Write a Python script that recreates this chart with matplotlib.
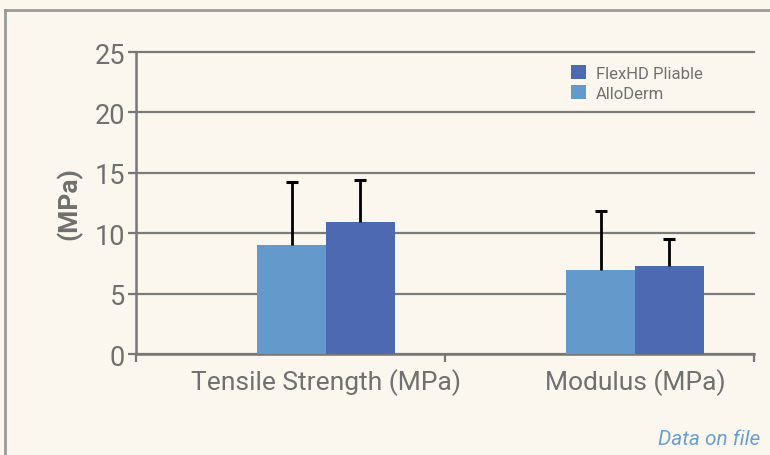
import numpy as np
import matplotlib
matplotlib.use("Agg")
import matplotlib.pyplot as plt
from matplotlib.lines import Line2D

# data
categories = ["Tensile Strength (MPa)", "Modulus (MPa)"]
alloderm = [9.0, 6.95]
alloderm_err = [5.2, 4.9]
flexhd = [10.95, 7.3]
flexhd_err = [3.45, 2.2]
y_ticks = [0, 5, 10, 15, 20, 25]

bg = "#FBF7EE"
gray = "#777777"
text_gray = "#707070"
c_allo = "#6399CB"
c_flex = "#4D69B1"

plt.rcParams['font.family'] = ['Roboto', 'DejaVu Sans']

fig = plt.figure(figsize=(7.7, 4.56), dpi=100)
fig.patch.set_facecolor(bg)

# outer frame (left and top edges only visible)
fig.add_artist(Line2D([5 / 770, 5 / 770], [0, 1 - 11 / 456], transform=fig.transFigure,
                      color="#9A9A9A", lw=2))
fig.add_artist(Line2D([5 / 770, 1], [1 - 11 / 456, 1 - 11 / 456], transform=fig.transFigure,
                      color="#9A9A9A", lw=2))

ax = fig.add_axes([136 / 770, 1 - 355 / 456, (754 - 136) / 770, (355 - 53) / 456])
ax.set_facecolor(bg)

x = np.arange(len(categories))
w = 0.223
ax.bar(x - w / 2, alloderm, w, color=c_allo, label="AlloDerm", zorder=3)
ax.bar(x + w / 2, flexhd, w, color=c_flex, label="FlexHD Pliable", zorder=3)

for xs, vals, errs in [(x - w / 2, alloderm, alloderm_err), (x + w / 2, flexhd, flexhd_err)]:
    eb = ax.errorbar(xs, vals, yerr=[np.zeros(len(xs)), errs], fmt="none",
                     ecolor="black", elinewidth=2, capsize=4.5, capthick=2.2, zorder=4)
    eb[1][0].set_visible(False)  # only the upper cap

ax.set_xlim(-0.615, 1.385)
ax.set_ylim(0, 25)
ax.set_yticks(y_ticks)
ax.set_yticklabels([str(t) for t in y_ticks], fontsize=19.5, color=text_gray)
ax.yaxis.grid(True, color="#7B7B7B", lw=1.6, zorder=0)
for gl in ax.get_ygridlines():
    gl.set_clip_on(False)
ax.set_axisbelow(True)

ax.set_xticks(x)
ax.set_xticklabels(categories, fontsize=19, color=text_gray)
ax.set_xticks([-0.615, 0.385, 1.385], minor=True)
ax.tick_params(axis="x", which="major", length=0, pad=10)
ax.tick_params(axis="x", which="minor", length=6, width=1.6, color=gray)
ax.tick_params(axis="y", length=6, width=1.6, color=gray, pad=2)

for s in ["top", "right"]:
    ax.spines[s].set_visible(False)
for s in ["left", "bottom"]:
    ax.spines[s].set_color(gray)
    ax.spines[s].set_linewidth(1.8)

ax.set_ylabel("(MPa)", fontsize=19, fontweight="bold", color=text_gray, labelpad=9)

handles, labels = ax.get_legend_handles_labels()
leg = ax.legend(handles[::-1], labels[::-1], loc="upper left", bbox_to_anchor=(0.68, 1.005),
                frameon=False, fontsize=12, handlelength=0.9, handleheight=0.9,
                handletextpad=0.6, labelspacing=0.25, labelcolor=text_gray)

fig.text(760 / 770, 1 - 440 / 456, "Data on file", ha="right", va="center",
         fontsize=15, style="italic", color="#6A9FD4")

fig.savefig("out.png", dpi=100, facecolor=bg)
